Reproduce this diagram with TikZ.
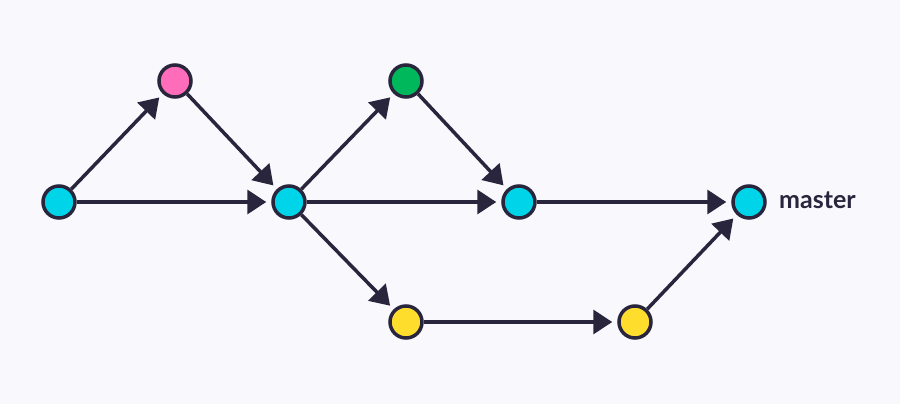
\documentclass[tikz,border=0pt]{standalone}
\usepackage{fontspec}
\setmainfont{Lato}
\usetikzlibrary{arrows.meta}
\definecolor{Paper}{HTML}{F8F8FD}
\definecolor{Ink}{HTML}{28253D}
\definecolor{Cyan}{HTML}{00D4E9}
\definecolor{Pink}{HTML}{FF6DBA}
\definecolor{Green}{HTML}{00B85C}
\definecolor{Yellow}{HTML}{FFDD2C}
\tikzset{
  commit/.style={circle,draw=Ink,line width=3.5pt,minimum size=32pt,inner sep=0pt},
  arr/.style={-{Triangle[length=19pt,width=24pt]},draw=Ink,line width=3.5pt,shorten >=5pt},
  branch/.style={anchor=west,inner sep=0pt,text=Ink,font=\bfseries\fontsize{25}{30}\selectfont}
}
\begin{document}
\begin{tikzpicture}[x=1pt,y=-1pt]
  \fill[Paper] (0,0) rectangle (900,404);
  \node[commit,fill=Cyan] (a) at (59,202) {};
  \node[commit,fill=Pink] (f1) at (175,81) {};
  \node[commit,fill=Cyan] (b) at (289,202) {};
  \node[commit,fill=Green] (f2) at (406,81) {};
  \node[commit,fill=Cyan] (c) at (519,202) {};
  \node[commit,fill=Yellow] (y1) at (406,322) {};
  \node[commit,fill=Yellow] (y2) at (635,322) {};
  \node[commit,fill=Cyan] (m) at (749,202) {};
  \node[branch] (lbl) at (779,200) {master};
  \draw[arr] (a) -- (f1);
  \draw[arr] (f1) -- (b);
  \draw[arr] (a) -- (b);
  \draw[arr] (b) -- (f2);
  \draw[arr] (f2) -- (c);
  \draw[arr] (b) -- (c);
  \draw[arr] (b) -- (y1);
  \draw[arr] (y1) -- (y2);
  \draw[arr] (y2) -- (m);
  \draw[arr] (c) -- (m);
\end{tikzpicture}
\end{document}
